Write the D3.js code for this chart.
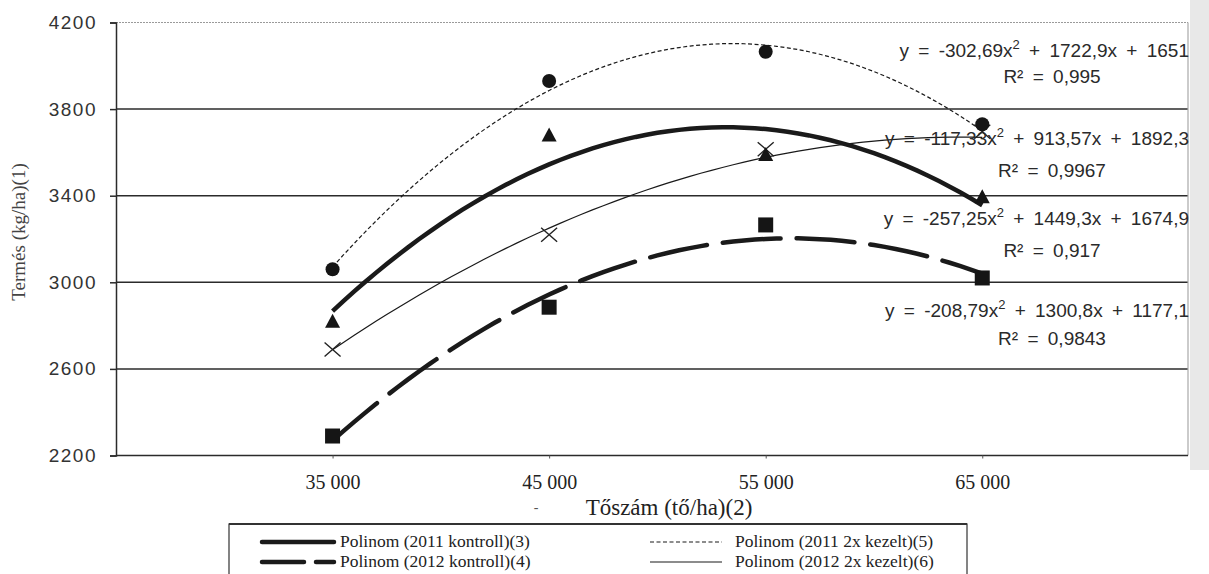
<!DOCTYPE html>
<html>
<head>
<meta charset="utf-8">
<script src="https://cdn.jsdelivr.net/npm/d3@7"></script>
<style>
  body { margin: 0; background: #fff; }
  svg { display: block; }
</style>
</head>
<body>
<svg width="1209" height="574"></svg>
<script>
// data
var tosz = [35000, 45000, 55000, 65000];
var yTicks = [2200, 2600, 3000, 3400, 3800, 4200];

var kontroll2011 = [2820, 3680, 3590, 3395];   // triangles
var kontroll2012 = [2290, 2885, 3265, 3020];   // squares
var kezelt2011 = [3060, 3930, 4065, 3730];     // circles
var kezelt2012 = [2690, 3220, 3615, 3695];     // crosses

// polynomial trend coefficients as printed on the chart (a, b, c for x = 1..4)
var coef2011k = [-257.25, 1449.3, 1674.9];
var coef2012k = [-208.79, 1300.8, 1177.1];
var coef2011z = [-302.69, 1722.9, 1651];
var coef2012z = [-117.33, 913.57, 1892.3];

var eqTexts = [
  ["y = -302,69x", " + 1722,9x + 1651", "R² = 0,995"],
  ["y = -117,33x", " + 913,57x + 1892,3", "R² = 0,9967"],
  ["y = -257,25x", " + 1449,3x + 1674,9", "R² = 0,917"],
  ["y = -208,79x", " + 1300,8x + 1177,1", "R² = 0,9843"]
];

function main(){
    var svg = d3.select("svg");

    var x = d3.scaleLinear().domain([25000, 74500]).range([116, 1188]);
    var y = d3.scaleLinear().domain([2200, 4200]).range([455.5, 22.5]);

    // scan edge on the right
    svg.append("rect").attr("x", 1190).attr("y", 0).attr("width", 19).attr("height", 470).attr("fill", "#e8e8e8");

    // gridlines
    svg.append("g").selectAll("line").data(yTicks.filter(function(d){return d > 2200 && d < 4200;}))
        .enter().append("line")
        .attr("x1", 116).attr("x2", 1188)
        .attr("y1", function(d){return y(d);}).attr("y2", function(d){return y(d);})
        .attr("stroke", "#2b2b2b").attr("stroke-width", 1.5);

    svg.append("line").attr("x1", 116).attr("x2", 1188).attr("y1", y(4200)).attr("y2", y(4200))
        .attr("stroke", "#9a9a9a").attr("stroke-width", 1.2).attr("stroke-dasharray", "2,1");
    svg.append("line").attr("x1", 1188).attr("x2", 1188).attr("y1", y(4200)).attr("y2", y(2200))
        .attr("stroke", "#a8a8a8").attr("stroke-width", 1.2);

    // axes
    var gy = svg.append("g").attr("transform", "translate(116,0)")
        .call(d3.axisLeft(y).tickValues(yTicks).tickSize(6).tickPadding(13).tickFormat(d3.format("d")));
    gy.selectAll("text").attr("font-family", "Liberation Sans, Arial, sans-serif").attr("font-size", 19)
        .attr("fill", "#333").attr("letter-spacing", 1.5);
    gy.select(".domain").attr("stroke", "#2b2b2b").attr("stroke-width", 1.5);
    gy.selectAll(".tick line").attr("stroke", "#2b2b2b").attr("stroke-width", 1.5);

    var gx = svg.append("g").attr("transform", "translate(0," + y(2200) + ")")
        .call(d3.axisBottom(x).tickValues(tosz).tickSize(3).tickPadding(16)
            .tickFormat(function(d){return d3.format(",")(d).replace(",", " ");}));
    gx.selectAll("text").attr("font-family", "Liberation Serif, Times New Roman, serif").attr("font-size", 20).attr("fill", "#222");
    gx.select(".domain").attr("d", "M116,0H1188").attr("stroke", "#2b2b2b").attr("stroke-width", 1.5);
    gx.selectAll(".tick line").attr("stroke", "#555").attr("stroke-width", 1);

    // axis titles
    svg.append("text").attr("transform", "translate(25,232) rotate(-90)")
        .attr("text-anchor", "middle").attr("font-family", "Liberation Serif, Times New Roman, serif")
        .attr("font-size", 19).attr("fill", "#444").text("Termés (kg/ha)(1)");
    svg.append("text").attr("x", 669).attr("y", 515).attr("text-anchor", "middle")
        .attr("font-family", "Liberation Serif, Times New Roman, serif").attr("font-size", 23).attr("fill", "#222")
        .text("Tőszám (tő/ha)(2)");
    svg.append("text").attr("x", 536).attr("y", 512).attr("text-anchor", "middle")
        .attr("font-family", "Liberation Serif, serif").attr("font-size", 14).attr("fill", "#555").text("-");

    // trend lines
    var steps = d3.range(1, 4.001, 0.05);
    function trend(c){
        return steps.map(function(t){ return [35000 + (t - 1) * 10000, c[0]*t*t + c[1]*t + c[2]]; });
    }
    var line = d3.line().x(function(d){return x(d[0]);}).y(function(d){return y(d[1]);});

    var series = [
        {c: coef2012z, w: 1.2, dash: null},
        {c: coef2011z, w: 1.2, dash: "4,2.5"},
        {c: coef2012k, w: 4.5, dash: "58,16"},
        {c: coef2011k, w: 4.5, dash: null}
    ];
    svg.append("g").selectAll("path").data(series).enter().append("path")
        .attr("d", function(s){return line(trend(s.c));})
        .attr("fill", "none").attr("stroke", "#1a1a1a")
        .attr("stroke-width", function(s){return s.w;})
        .attr("stroke-dasharray", function(s){return s.dash;})
        .attr("stroke-linecap", function(s){return s.dash && s.w > 2 ? "round" : "butt";});

    // markers
    var mk = svg.append("g").attr("fill", "#151515");
    mk.selectAll(".kx").data(kezelt2012).enter().append("path")
        .attr("transform", function(d, i){return "translate(" + x(tosz[i]) + "," + y(d) + ")";})
        .attr("d", "M-8,-7L8,7M-8,7L8,-7").attr("stroke", "#222").attr("stroke-width", 1.4).attr("fill", "none");
    mk.selectAll(".sq").data(kontroll2012).enter().append("rect")
        .attr("x", function(d, i){return x(tosz[i]) - 7.5;}).attr("y", function(d){return y(d) - 7.5;})
        .attr("width", 15).attr("height", 15);
    mk.selectAll(".tr").data(kontroll2011).enter().append("path")
        .attr("transform", function(d, i){return "translate(" + x(tosz[i]) + "," + y(d) + ")";})
        .attr("d", "M0,-7.5L7.5,6.5L-7.5,6.5Z");
    mk.selectAll(".ci").data(kezelt2011).enter().append("circle")
        .attr("cx", function(d, i){return x(tosz[i]);}).attr("cy", function(d){return y(d);}).attr("r", 7);

    // equations
    var eqY = [57, 145, 225, 317];
    var rY = [83, 177, 257, 345];
    var eq = svg.append("g").attr("font-family", "Liberation Sans, Arial, sans-serif").attr("font-size", 19).attr("fill", "#2a2a2a");
    eqTexts.forEach(function(e, i){
        var t = eq.append("text").attr("x", 1189).attr("y", eqY[i]).attr("text-anchor", "end")
            .attr("xml:space", "preserve").attr("word-spacing", 4);
        t.append("tspan").text(e[0]);
        t.append("tspan").attr("font-size", 13).attr("dy", -8).text("2");
        t.append("tspan").attr("dy", 8).text(e[1]);
        eq.append("text").attr("x", 1052).attr("y", rY[i]).attr("text-anchor", "middle")
            .attr("word-spacing", 4).text(e[2]);
    });

    // legend
    var lg = svg.append("g");
    lg.append("rect").attr("x", 229).attr("y", 524).attr("width", 738).attr("height", 60)
        .attr("fill", "#fff").attr("stroke", "#333").attr("stroke-width", 1.2);
    lg.append("line").attr("x1", 229).attr("x2", 967).attr("y1", 524).attr("y2", 524).attr("stroke", "#333").attr("stroke-width", 2);
    var items = [
        {label: "Polinom (2011 kontroll)(3)", lx: 262, ly: 542, w: 4.5, dash: null},
        {label: "Polinom (2012 kontroll)(4)", lx: 262, ly: 562, w: 4.5, dash: "42,12"},
        {label: "Polinom (2011 2x kezelt)(5)", lx: 650, ly: 542, w: 1.2, dash: "4,2.5"},
        {label: "Polinom (2012 2x kezelt)(6)", lx: 650, ly: 562, w: 1.2, dash: null}
    ];
    items.forEach(function(it){
        lg.append("line").attr("x1", it.lx).attr("x2", it.lx + 72).attr("y1", it.ly).attr("y2", it.ly)
            .attr("stroke", "#1a1a1a").attr("stroke-width", it.w).attr("stroke-dasharray", it.dash)
            .attr("stroke-linecap", it.w > 2 ? "round" : "butt");
        lg.append("text").attr("x", it.lx + (it.w > 2 ? 78 : 85)).attr("y", it.ly + 5)
            .attr("font-family", "Liberation Serif, Times New Roman, serif").attr("font-size", 17.5).attr("fill", "#222")
            .text(it.label);
    });
}
main();
</script>
</body>
</html>
